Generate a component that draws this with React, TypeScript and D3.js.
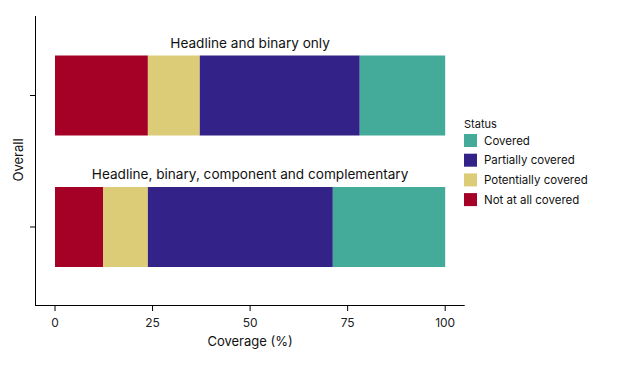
import React from "react";
import * as d3 from "d3";

const groups = ["Headline and binary only", "Headline, binary, component and complementary"];
const statuses = ["Not at all covered", "Potentially covered", "Partially covered", "Covered"];
const legendOrder = ["Covered", "Partially covered", "Potentially covered", "Not at all covered"];
const colors = ["#A50026", "#DDCC77", "#332288", "#44AA99"];
const notAtAll = [23.8, 12.3];
const potentially = [13.3, 11.5];
const partially = [41.0, 47.4];
const covered = [21.9, 28.8];
const xTicks = [0, 25, 50, 75, 100];

const FONT = "Inter, 'Noto Sans', sans-serif";

export default function App() {
  const W = 638, H = 368;
  const x = d3.scaleLinear().domain([-5, 105]).range([35.5, 464.7]);
  const rows = groups.map((g, i) => ({
    g,
    vals: [notAtAll[i], potentially[i], partially[i], covered[i]],
  }));
  const color = d3.scaleOrdinal<string, string>().domain(statuses).range(colors);
  const y = d3.scalePoint<string>().domain(groups).range([95.5, 227]);
  const bw = 80;
  return (
    <svg width={W} height={H} style={{ position: "absolute", left: 0, top: 0, background: "#fff" }} fontFamily={FONT}>
      {rows.map((r) => {
        let acc = 0;
        const cy = y(r.g) as number;
        return (
          <g key={r.g}>
            {r.vals.map((v, j) => {
              const x0 = x(acc);
              acc += v;
              const x1 = x(acc);
              return <rect key={j} x={x0} y={cy - bw / 2} width={x1 - x0} height={bw} fill={color(statuses[j])} />;
            })}
            <text x={x(50)} y={cy - bw / 2 - 8} textAnchor="middle" fontSize={13.6} fill="#111">{r.g}</text>
            <line x1={30} x2={35.5} y1={cy} y2={cy} stroke="#000" strokeWidth={1} />
          </g>
        );
      })}
      <line x1={35.5} x2={35.5} y1={16} y2={305.5} stroke="#000" strokeWidth={1} />
      <line x1={35} x2={464.7} y1={305.5} y2={305.5} stroke="#000" strokeWidth={1} />
      {xTicks.map((t) => (
        <g key={t}>
          <line x1={x(t)} x2={x(t)} y1={305.5} y2={311} stroke="#000" strokeWidth={1} />
          <text x={x(t)} y={327} textAnchor="middle" fontSize={12} fill="#222">{t}</text>
        </g>
      ))}
      <text x={x(50)} y={346} textAnchor="middle" fontSize={13} fill="#111">Coverage (%)</text>
      <text transform={`translate(23,160) rotate(-90)`} textAnchor="middle" fontSize={13} fill="#111">Overall</text>
      <text x={464} y={128} fontSize={11} fill="#111">Status</text>
      {legendOrder.map((s, i) => (
        <g key={s}>
          <rect x={464} y={134 + i * 19.7} width={13} height={13} fill={color(s)} />
          <text x={484} y={144.5 + i * 19.7} fontSize={11.5} fill="#111">{s}</text>
        </g>
      ))}
    </svg>
  );
}
